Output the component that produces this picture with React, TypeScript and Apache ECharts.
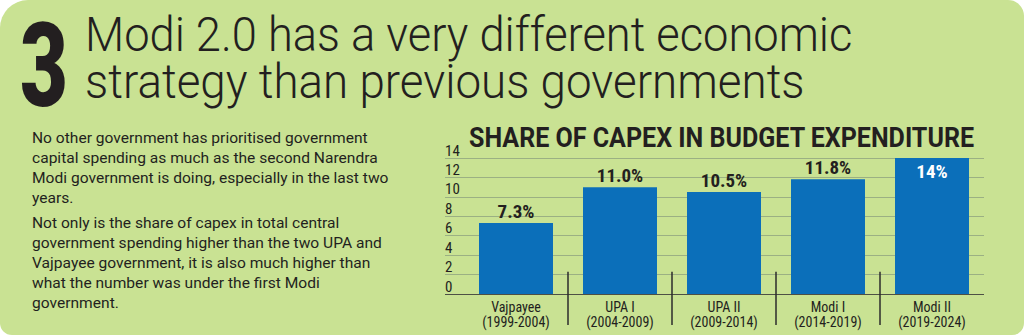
import React, { useEffect, useRef } from "react";
import * as echarts from "echarts";

const categories = [
  "Vajpayee\n(1999-2004)",
  "UPA I\n(2004-2009)",
  "UPA II\n(2009-2014)",
  "Modi I\n(2014-2019)",
  "Modi II\n(2019-2024)",
];
const capexShare = [7.3, 11.0, 10.5, 11.8, 14];
const valueLabels = ["7.3%", "11.0%", "10.5%", "11.8%", "14%"];
const yTicks = [0, 2, 4, 6, 8, 10, 12, 14];
// separators drawn after categories 0..3, spanning value range [top, bottom]
const separatorAfter = [0, 1, 2, 3];
const separatorSpan = [2.3, -3.2];

const headline1 = "Modi 2.0 has a very different economic";
const headline2 = "strategy than previous governments";
const bigNumber = "3";
const chartTitle = "SHARE OF CAPEX IN BUDGET EXPENDITURE";
const para1 = [
  "No other government has prioritised government",
  "capital spending as much as the second Narendra",
  "Modi government is doing, especially in the last two",
  "years.",
];
const para2 = [
  "Not only is the share of capex in total central",
  "government spending higher than the two UPA and",
  "Vajpayee government, it is also much higher than",
  "what the number was under the first Modi",
  "government.",
];

const BG = "#c9e293";
const INK = "#231f20";
const BLUE = "#0b6fba";
const COND = "'Roboto Condensed','Liberation Sans Narrow','DejaVu Sans Condensed','Arial Narrow',Roboto,sans-serif";

function measure(text: string, font: string): number {
  const c = document.createElement("canvas").getContext("2d")!;
  c.font = font;
  return c.measureText(text).width;
}

function fit(text: string, weight: string, size: number, family: string, target: number) {
  const w = measure(text, `${weight} ${size}px ${family}`);
  return w > 0 ? target / w : 1;
}

export default function App() {
  const ref = useRef<HTMLDivElement>(null);
  useEffect(() => {
    document.body.style.margin = "0";
    const chart = echarts.init(ref.current!, null, { renderer: "svg" });

    const hFam = "Roboto";
    const h1Scale = fit(headline1, "300", 49, hFam, 768);
    const h2Scale = fit(headline2, "300", 49, hFam, 720);
    const bigSize = 100;
    const bigScaleY = 1.16;
    const bigScale = fit(bigNumber, "900", bigSize, hFam, 48);
    const titleScale = fit(chartTitle, "bold", 27, hFam, 506);
    const bodyScale = fit(para1[2], "normal", 15.5, hFam, 357);

    const option: echarts.EChartsOption = {
      animation: false,
      backgroundColor: "#ffffff",
      graphic: [
        {
          type: "rect",
          z: -10,
          silent: true,
          shape: { x: 0, y: 0, width: 1024, height: 335, r: [28, 16, 12, 12] },
          style: { fill: BG },
        },
        {
          type: "text",
          x: 20,
          y: 67,
          scaleX: bigScale,
          scaleY: bigScaleY,
          style: {
            text: bigNumber,
            fontFamily: hFam,
            fontWeight: 900,
            fontSize: bigSize,
            lineHeight: 80,
            fill: INK,
            verticalAlign: "middle",
          },
        },
        {
          type: "text",
          x: 85,
          y: 34,
          scaleX: h1Scale,
          style: {
            text: headline1,
            fontFamily: hFam,
            fontWeight: 300,
            fontSize: 49,
            lineHeight: 50,
            fill: INK,
            verticalAlign: "middle",
          },
        },
        {
          type: "text",
          x: 85,
          y: 81,
          scaleX: h2Scale,
          style: {
            text: headline2,
            fontFamily: hFam,
            fontWeight: 300,
            fontSize: 49,
            lineHeight: 50,
            fill: INK,
            verticalAlign: "middle",
          },
        },
        {
          type: "text",
          x: 32,
          y: 128,
          scaleX: bodyScale,
          style: {
            text: para1.join("\n"),
            fontFamily: hFam,
            fontSize: 15.5,
            lineHeight: 20,
            fill: INK,
            verticalAlign: "top",
          },
        },
        {
          type: "text",
          x: 32,
          y: 213,
          scaleX: bodyScale,
          style: {
            text: para2.join("\n"),
            fontFamily: hFam,
            fontSize: 15.5,
            lineHeight: 20,
            fill: INK,
            verticalAlign: "top",
          },
        },
        {
          type: "text",
          x: 469,
          y: 138,
          scaleX: titleScale,
          style: {
            text: chartTitle,
            fontFamily: hFam,
            fontWeight: "bold",
            fontSize: 27,
            fill: INK,
            verticalAlign: "middle",
          },
        },
      ],
      grid: [
        { left: 445, right: 40, top: 158, bottom: 41 },
        { left: 464, right: 40, top: 158, bottom: 41 },
      ],
      xAxis: [
        { type: "value", gridIndex: 0, show: false, min: 0, max: 1 },
        {
          type: "category",
          gridIndex: 1,
          data: categories,
          axisLine: { show: false },
          axisTick: { show: false },
          axisLabel: {
            fontFamily: COND,
            fontSize: 14,
            color: INK,
            lineHeight: 15,
            margin: 5,
          },
        },
      ],
      yAxis: [
        {
          type: "value",
          gridIndex: 0,
          min: 0,
          max: 14,
          interval: 2,
          axisLine: { show: false },
          axisTick: { show: false },
          axisLabel: {
            inside: true,
            margin: 0,
            verticalAlign: "bottom",
            fontFamily: COND,
            fontSize: 15,
            color: INK,
            formatter: (v: number) => (yTicks.includes(v) ? String(v) : ""),
          },
          splitLine: {
            lineStyle: {
              color: ["#4d5045", "#9bb083", "#9bb083", "#9bb083", "#9bb083", "#9bb083", "#9bb083", "#9bb083"],
              width: 1,
            },
          },
        },
        {
          type: "value",
          gridIndex: 1,
          min: 0,
          max: 14,
          interval: 2,
          show: false,
        },
      ],
      series: [
        {
          type: "bar",
          xAxisIndex: 1,
          yAxisIndex: 1,
          barWidth: 74,
          itemStyle: { color: BLUE },
          z: 3,
          data: capexShare.map((v, i) => ({
            value: v,
            label:
              i === capexShare.length - 1
                ? { position: "insideTop", color: "#ffffff", distance: 4 }
                : { position: "top", color: INK, distance: 2 },
          })),
          label: {
            show: true,
            fontFamily: COND,
            fontWeight: "bold",
            fontSize: 19,
            formatter: (p: any) => valueLabels[p.dataIndex],
          },
        },
        {
          type: "custom",
          xAxisIndex: 1,
          yAxisIndex: 1,
          clip: false,
          silent: true,
          z: 4,
          data: separatorAfter.map((i) => [i, separatorSpan[0], separatorSpan[1]]),
          renderItem: (params: any, api: any) => {
            const idx = api.value(0);
            const half = api.size([1, 0])[0] / 2;
            const top = api.coord([idx, api.value(1)]);
            const bot = api.coord([idx, api.value(2)]);
            return {
              type: "line",
              shape: { x1: top[0] + half, y1: top[1], x2: bot[0] + half, y2: bot[1] },
              style: { stroke: "#2b2b2b", lineWidth: 1.5 },
            };
          },
        },
      ],
    };
    chart.setOption(option);
    return () => chart.dispose();
  }, []);
  return <div ref={ref} style={{ width: 1024, height: 335 }} />;
}
